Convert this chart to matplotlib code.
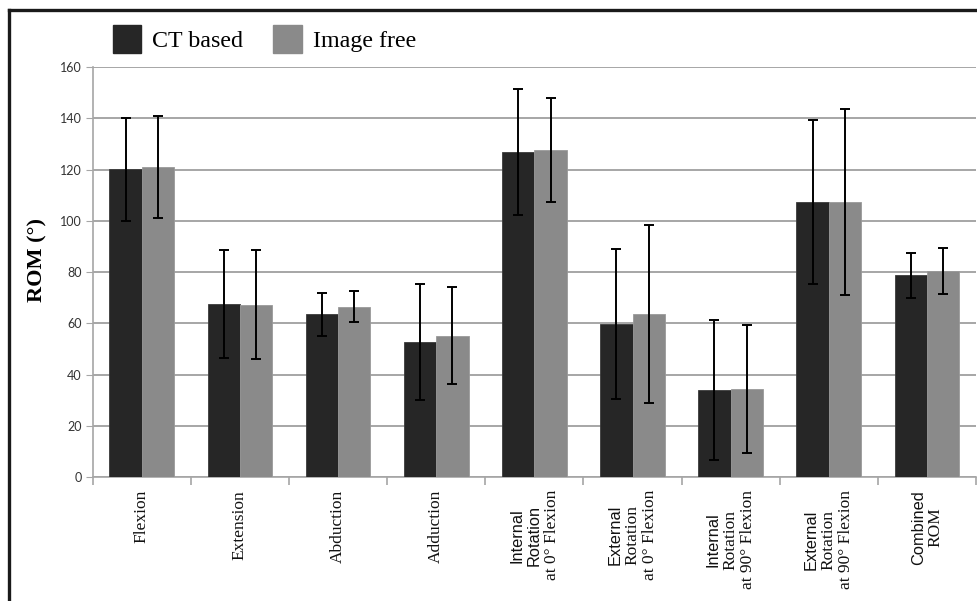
import numpy as np
import matplotlib
matplotlib.use("Agg")
import matplotlib.pyplot as plt
from matplotlib.lines import Line2D
from matplotlib.patches import Rectangle
from matplotlib import transforms

# category labels, each line with the font it is typeset in
label_lines = [
    [("Flexion", "serif")],
    [("Extension", "serif")],
    [("Abduction", "serif")],
    [("Adduction", "serif")],
    [("Internal", "sans"), ("Rotation", "sans"), ("at 0\u00b0 Flexion", "serif")],
    [("External", "sans"), ("Rotation", "serif"), ("at 0\u00b0 Flexion", "serif")],
    [("Internal", "sans"), ("Rotation", "serif"), ("at 90\u00b0 Flexion", "serif")],
    [("External", "sans"), ("Rotation", "serif"), ("at 90\u00b0 Flexion", "serif")],
    [("Combined", "sans"), ("ROM", "serif")],
]

ct_mean = [120.1, 67.5, 63.5, 52.8, 126.8, 59.8, 34.0, 107.3, 78.8]
ct_sd = [20.1, 21.0, 8.3, 22.6, 24.6, 29.2, 27.4, 32.0, 8.8]
if_mean = [120.8, 67.2, 66.5, 55.2, 127.6, 63.6, 34.2, 107.3, 80.4]
if_sd = [19.9, 21.3, 6.0, 18.9, 20.3, 34.6, 25.0, 36.2, 9.0]

series_names = ["CT based", "Image free"]
yticks = [0, 20, 40, 60, 80, 100, 120, 140, 160]

dark = "#262626"
light = "#8a8a8a"
grid_col = "#a6a6a6"
serif = "Liberation Serif"
sans = "Liberation Sans"

fig = plt.figure(figsize=(9.78, 6.01), dpi=100)
ax = fig.add_axes([0.0948, 0.2063, 0.9032, 0.6822])

x = np.arange(len(ct_mean))
w = 0.33
err_kw = dict(ecolor="black", elinewidth=1.4, capsize=3.5, capthick=1.4)
ax.bar(x - w / 2, ct_mean, w, yerr=ct_sd, color=dark, edgecolor="#3a3a3a",
       linewidth=0.6, error_kw=err_kw, zorder=3)
ax.bar(x + w / 2, if_mean, w, yerr=if_sd, color=light, edgecolor="#9a9a9a",
       linewidth=0.6, error_kw=err_kw, zorder=3)

ax.set_xlim(-0.5, len(ct_mean) - 0.5)
ax.set_ylim(0, 160)
ax.set_yticks(yticks)
ax.yaxis.grid(True, color=grid_col, linewidth=1.4, zorder=0)
ax.set_axisbelow(True)

for s in ["top", "right"]:
    ax.spines[s].set_visible(False)
for s in ["left", "bottom"]:
    ax.spines[s].set_color(grid_col)
    ax.spines[s].set_linewidth(1.2)

ax.tick_params(axis="y", length=5, color=grid_col, labelsize=9, pad=3)
for lab in ax.get_yticklabels():
    lab.set_fontfamily("Lato")
    lab.set_color("#333333")

# ticks at category boundaries, no labels on axis
ax.set_xticks([])
ax.set_xticks(np.arange(-0.5, len(ct_mean)), minor=True)
ax.tick_params(axis="x", which="minor", length=6, color=grid_col, width=1.2)

# multi-line rotated labels: block hangs from the axis, lines centred on each other
renderer = fig.canvas.get_renderer()
line_gap = 17.5  # pixels between lines
top_gap = 13     # pixels from axis to top of the label block
for i, lines in enumerate(label_lines):
    n = len(lines)
    texts = []
    for j, (txt, fam) in enumerate(lines):
        dx = (j - (n - 1) / 2) * line_gap
        if fam == "serif":
            t = ax.text(i, 0, txt, rotation=90, ha="center", va="center",
                        fontfamily=serif, fontsize=12.5, color="#111111")
        else:
            t = ax.text(i, 0, txt, rotation=90, ha="center", va="center",
                        fontfamily=sans, fontsize=11.8, color="#111111")
        texts.append((t, dx))
    longest = max(t.get_window_extent(renderer).height for t, _ in texts)
    for t, dx in texts:
        t.set_transform(transforms.offset_copy(ax.get_xaxis_transform(), fig=fig,
                                               x=dx, y=-(top_gap + longest / 2),
                                               units="dots"))

ax.set_ylabel("ROM (\u00b0)", fontfamily=serif, fontweight="bold", fontsize=16)
ax.yaxis.set_label_coords(-0.051, 0.53)

# legend drawn as squares + text at top
handles = [Rectangle((0, 0), 1, 1, color=dark), Rectangle((0, 0), 1, 1, color=light)]
leg = fig.legend(handles, series_names, loc="upper left",
                 bbox_to_anchor=(0.093, 0.995), ncol=2, frameon=False,
                 prop={"family": serif, "size": 17.3}, handlelength=1.2,
                 handleheight=1.45, handletextpad=0.45, columnspacing=1.25)

# black frame lines at top and left
fig.add_artist(Line2D([9 / 978, 9 / 978], [0, 591 / 601], color="#1a1a1a",
                      linewidth=2.4, transform=fig.transFigure))
fig.add_artist(Line2D([9 / 978, 1], [591 / 601, 591 / 601], color="#1a1a1a",
                      linewidth=2.4, transform=fig.transFigure))

fig.savefig("out.png", dpi=100)
